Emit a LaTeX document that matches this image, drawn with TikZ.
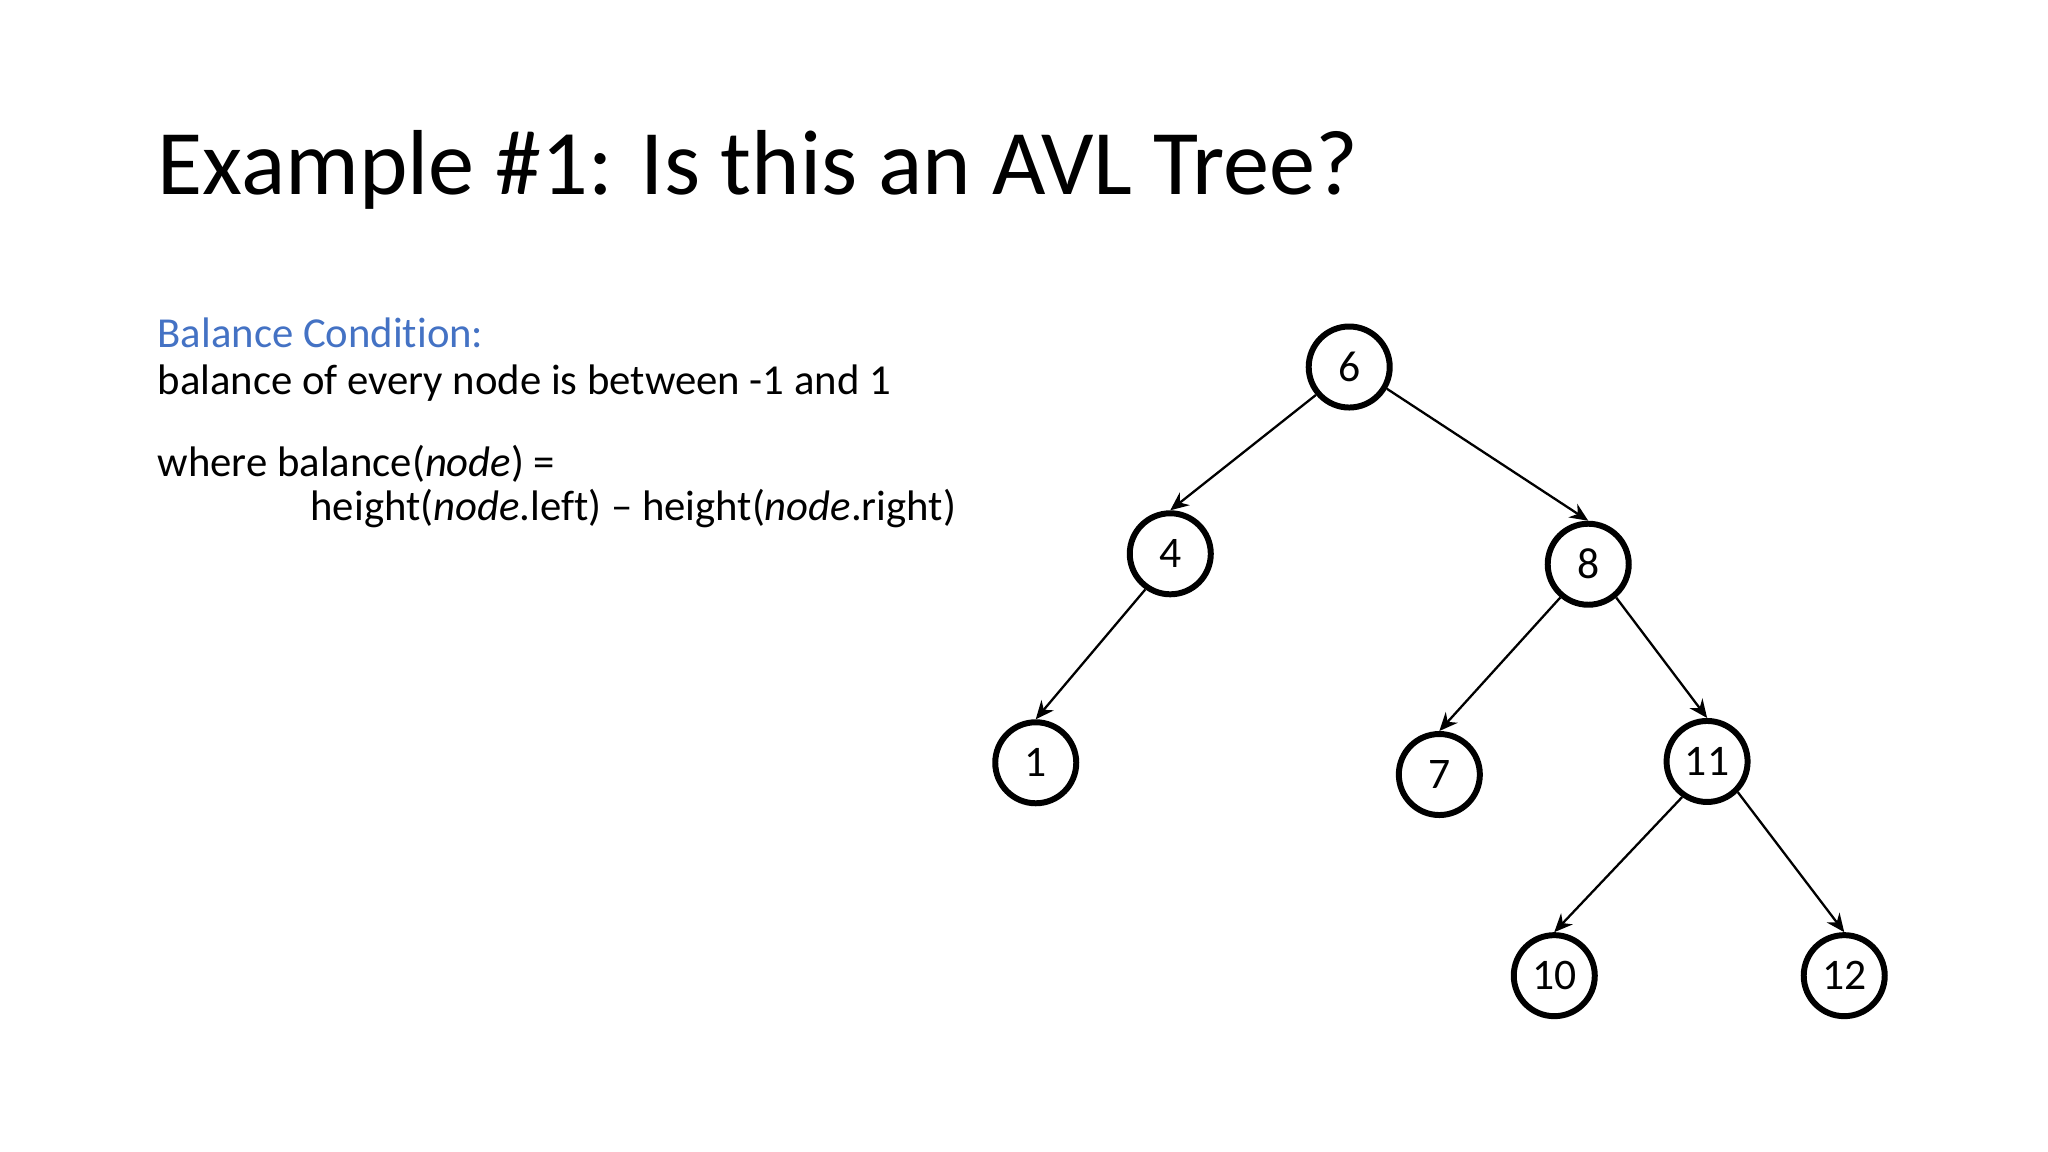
\documentclass[tikz,border=0pt]{standalone}
\usepackage{fontspec}
\setmainfont[Ligatures={NoCommon,TeX}]{Carlito}
\usetikzlibrary{arrows.meta}
\begin{document}
\begin{tikzpicture}[x=0.01cm,y=-0.01cm,
  tn/.style={circle,draw,line width=1.3pt,minimum size=0.62cm,inner sep=0pt,font=\fontsize{9.5}{11}\selectfont},
  ed/.style={-{Stealth[length=4pt,width=3.5pt]},line width=0.5pt}]
\useasboundingbox (0,0) rectangle (1568,882);
\node[anchor=west,inner sep=0pt,font=\fontsize{20.1}{24}\selectfont] (title) at (120,130) {Example \#1: Is this an AVL Tree?};
\node[anchor=north west,inner sep=0pt,align=left,font=\fontsize{9.3}{10.2}\selectfont] (txt) at (120,243)
{\textcolor[HTML]{4472C4}{Balance Condition:}\\balance of every node is between -1 and 1\\[7.5pt]
where balance(\textit{node}) =\\[-0.6pt]\hspace{1.17cm}height(\textit{node}.left) -- height(\textit{node}.right)};
\node[tn] (n6) at (1033,281) {6};
\node[tn] (n4) at (896,424) {4};
\node[tn] (n8) at (1216,432) {8};
\node[tn] (n1) at (793,584) {1};
\node[tn] (n7) at (1102,593) {7};
\node[tn] (n11) at (1307,583) {11};
\node[tn] (n10) at (1190,747) {10};
\node[tn] (n12) at (1412,747) {12};
\draw[ed] (n6.-140) -- (n4.north);
\draw[ed] (n6.-30) -- (n8.north);
\draw[ed] (n4.-125) -- (n1.north);
\draw[ed] (n8.-130) -- (n7.north);
\draw[ed] (n8.-50) -- (n11.north);
\draw[ed] (n11.-125) -- (n10.north);
\draw[ed] (n11.-45) -- (n12.north);
\end{tikzpicture}
\end{document}
